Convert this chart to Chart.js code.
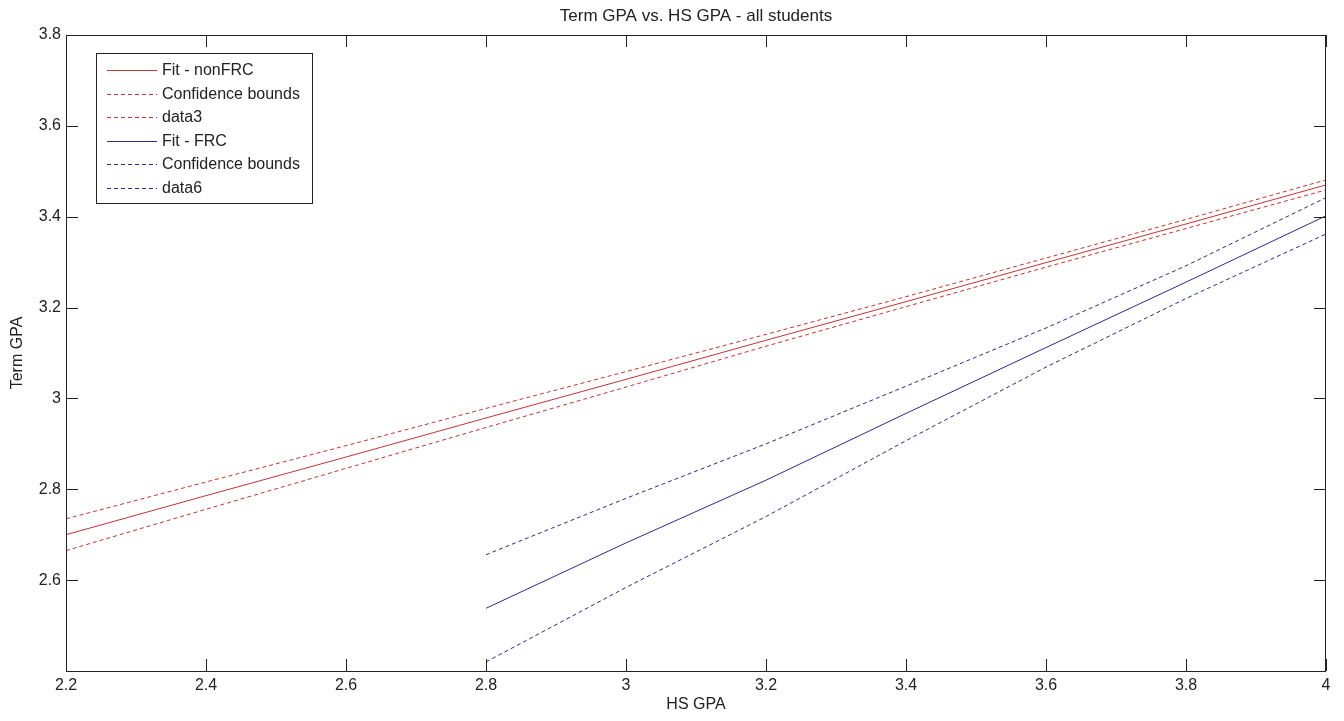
<!DOCTYPE html>
<html>
<head>
<meta charset="utf-8">
<script src="https://cdn.jsdelivr.net/npm/chart.js@4.4.1/dist/chart.umd.min.js"></script>
<style>
  html, body { margin: 0; padding: 0; background: #fff; }
  #wrap { width: 1344px; height: 721px; }
</style>
</head>
<body>
<div id="wrap"><canvas id="gpaChart" width="1344" height="721"></canvas></div>
<script>
// values
const xRed = [2.2, 2.4, 2.6, 2.8, 3.0, 3.2, 3.4, 3.6, 3.8, 4.0]
const fitRed = [2.700, 2.786, 2.871, 2.957, 3.042, 3.128, 3.213, 3.299, 3.384, 3.470]
const upperRed = [2.735, 2.816, 2.896, 2.978, 3.059, 3.141, 3.224, 3.309, 3.394, 3.481]
const lowerRed = [2.665, 2.756, 2.846, 2.936, 3.025, 3.115, 3.202, 3.289, 3.374, 3.459]

const xBlue = [2.8, 3.0, 3.2, 3.4, 3.6, 3.8, 4.0]
const fitBlue = [2.538, 2.682, 2.820, 2.967, 3.112, 3.256, 3.402]
const upperBlue = [2.656, 2.780, 2.900, 3.027, 3.155, 3.292, 3.442]
const lowerBlue = [2.420, 2.584, 2.740, 2.907, 3.069, 3.220, 3.362]

const xTicks = [2.2, 2.4, 2.6, 2.8, 3.0, 3.2, 3.4, 3.6, 3.8, 4.0]
const yTicks = [2.6, 2.8, 3.0, 3.2, 3.4, 3.6, 3.8]

const RED = '#c03434'
const BLUE = '#2b2b8a'
const FONT = '"Liberation Sans", Arial, sans-serif'

function pts(xs, ys) {
  return xs.map((x, i) => ({ x: x, y: ys[i] }))
}

function line(label, data, color, dashed) {
  return {
    label: label,
    data: data,
    borderColor: color,
    borderWidth: 1,
    borderDash: dashed ? [4, 3] : [],
    pointRadius: 0,
    fill: false,
    tension: 0,
  }
}

// box, inward ticks, titles and legend drawn MATLAB-style
const matlabFrame = {
  id: 'matlabFrame',
  afterDraw(chart) {
    const ctx = chart.ctx
    const a = chart.chartArea
    const xs = chart.scales.x
    const ys = chart.scales.y
    const tl = 12
    ctx.save()
    ctx.strokeStyle = '#222'
    ctx.lineWidth = 1
    ctx.strokeRect(a.left + 0.5, a.top + 0.5, a.right - a.left - 1, a.bottom - a.top)
    ctx.beginPath()
    xTicks.forEach((v) => {
      const px = Math.round(xs.getPixelForValue(v)) + 0.5
      ctx.moveTo(px, a.bottom); ctx.lineTo(px, a.bottom - tl)
      ctx.moveTo(px, a.top); ctx.lineTo(px, a.top + tl)
    })
    yTicks.forEach((v) => {
      const py = Math.round(ys.getPixelForValue(v)) + 0.5
      ctx.moveTo(a.left, py); ctx.lineTo(a.left + tl, py)
      ctx.moveTo(a.right, py); ctx.lineTo(a.right - tl, py)
    })
    ctx.stroke()

    ctx.fillStyle = '#222'
    ctx.textAlign = 'center'
    ctx.textBaseline = 'middle'
    ctx.font = '17px ' + FONT
    ctx.fillText('Term GPA vs. HS GPA - all students', (a.left + a.right) / 2, 16)
    ctx.font = '16px ' + FONT
    ctx.fillText('HS GPA', (a.left + a.right) / 2, 705)
    ctx.save()
    ctx.translate(18, (a.top + a.bottom) / 2)
    ctx.rotate(-Math.PI / 2)
    ctx.fillText('Term GPA', 0, 0)
    ctx.restore()

    // legend
    const lx = 96, ly = 53, lw = 216, lh = 150
    ctx.fillStyle = '#fff'
    ctx.fillRect(lx, ly, lw, lh)
    ctx.strokeStyle = '#222'
    ctx.strokeRect(lx + 0.5, ly + 0.5, lw, lh)
    ctx.textAlign = 'left'
    ctx.font = '16px ' + FONT
    chart.data.datasets.forEach((ds, i) => {
      const y = Math.round(ly + 17 + i * 23.6) + 0.5
      ctx.beginPath()
      ctx.strokeStyle = ds.borderColor
      ctx.setLineDash(ds.borderDash)
      ctx.moveTo(107, y); ctx.lineTo(157, y)
      ctx.stroke()
      ctx.setLineDash([])
      ctx.fillStyle = '#222'
      ctx.fillText(ds.label, 162, y)
    })
    ctx.restore()
  },
}

new Chart(document.getElementById('gpaChart').getContext('2d'), {
  type: 'line',
  data: {
    datasets: [
      line('Fit - nonFRC', pts(xRed, fitRed), RED, false),
      line('Confidence bounds', pts(xRed, upperRed), RED, true),
      line('data3', pts(xRed, lowerRed), RED, true),
      line('Fit - FRC', pts(xBlue, fitBlue), BLUE, false),
      line('Confidence bounds', pts(xBlue, upperBlue), BLUE, true),
      line('data6', pts(xBlue, lowerBlue), BLUE, true),
    ],
  },
  plugins: [matlabFrame],
  options: {
    responsive: false,
    animation: false,
    layout: { padding: { top: 35, right: 18, left: 0, bottom: 0 } },
    plugins: { legend: { display: false }, title: { display: false }, tooltip: { enabled: false } },
    scales: {
      x: {
        type: 'linear',
        min: 2.2,
        max: 4,
        grid: { display: false, drawTicks: false },
        border: { display: false },
        afterFit: (s) => { s.height = 50 },
        afterBuildTicks: (s) => { s.ticks = xTicks.map((v) => ({ value: v })) },
        ticks: {
          padding: 5,
          color: '#222',
          font: { family: FONT, size: 16 },
          maxRotation: 0,
          callback: (v) => String(Math.round(v * 10) / 10),
        },
      },
      y: {
        type: 'linear',
        min: 2.4,
        max: 3.8,
        grid: { display: false, drawTicks: false },
        border: { display: false },
        afterFit: (s) => { s.width = 66 },
        afterBuildTicks: (s) => { s.ticks = yTicks.map((v) => ({ value: v })) },
        ticks: {
          padding: 5,
          color: '#222',
          font: { family: FONT, size: 16 },
          callback: (v) => String(Math.round(v * 10) / 10),
        },
      },
    },
  },
})
</script>
</body>
</html>
